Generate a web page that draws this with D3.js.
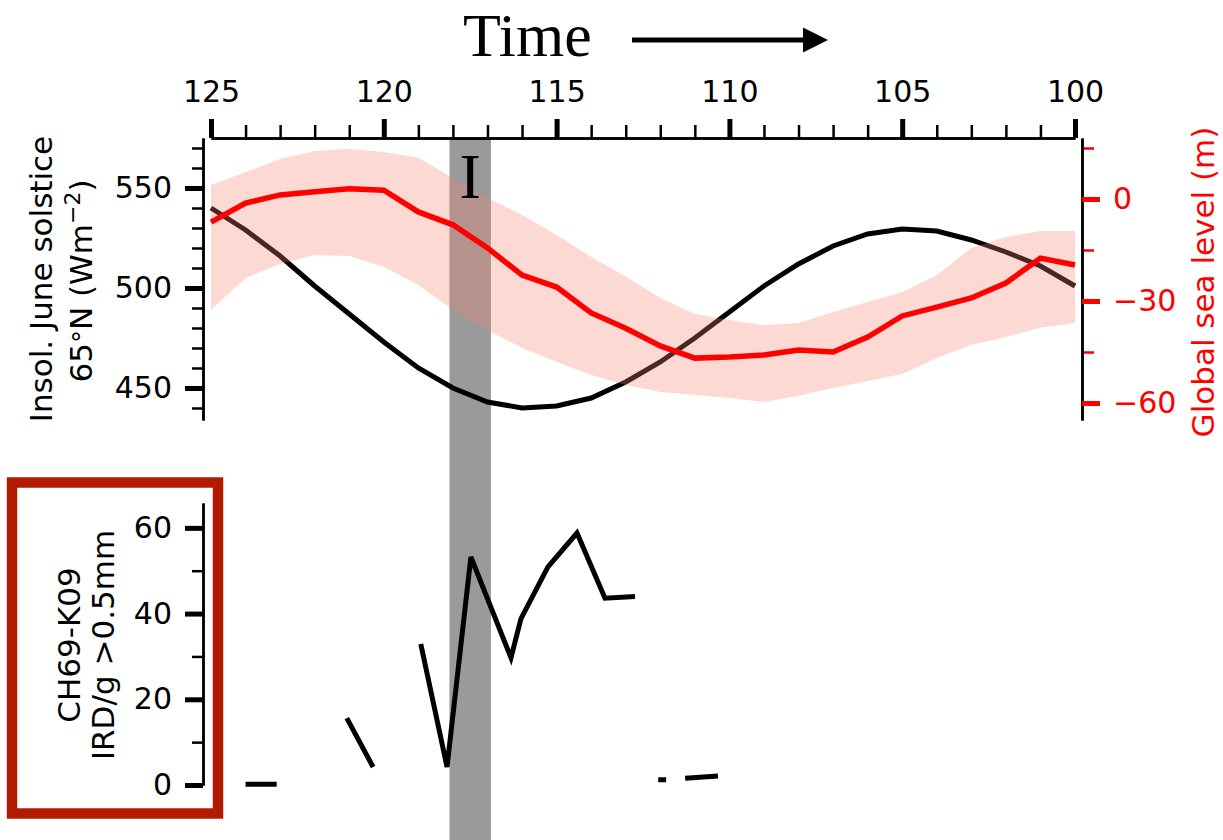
<!DOCTYPE html>
<html>
<head>
<meta charset="utf-8">
<script src="https://cdn.jsdelivr.net/npm/d3@7"></script>
<style>
  html, body { margin: 0; padding: 0; background: #fff; }
  svg { display: block; }
  text { font-family: "DejaVu Sans", sans-serif; }
</style>
</head>
<body>
<svg id="chart" width="1223" height="840"></svg>
<script>
// Age axis (ka), shared by both panels
const ages = [125, 124, 123, 122, 121, 120, 119, 118, 117, 116, 115, 114, 113,
              112, 111, 110, 109, 108, 107, 106, 105, 104, 103, 102, 101, 100];
const ageTicks = [125, 120, 115, 110, 105, 100];

// June solstice insolation at 65°N (W m^-2)
const insolation = [540, 529, 516, 501, 487, 473, 460, 450, 443, 440, 441, 445, 453,
                    463, 475, 488, 501, 512, 521, 527, 529.5, 528.5, 524, 518, 511, 501];

// Global sea level (m): central estimate with upper and lower bounds
const seaLevel = [-6.8, -1.2, 1.2, 2.1, 3.0, 2.6, -3.8, -7.6, -14.4, -22.4, -25.9, -33.5, -38,
                  -43.2, -46.8, -46.5, -45.9, -44.4, -45, -40.6, -34.4, -31.8, -29.1, -24.7, -17.4, -19.4];
const seaLevelHigh = [4.1, 7.9, 11.8, 14.1, 14.7, 13.8, 12.1, 6.2, 0.3, -4.7, -10.6, -17, -22.9,
                      -29.1, -33.8, -35.6, -37.1, -36.5, -33.2, -30.3, -27.4, -22.4, -14.4, -11.2, -9.4, -9.4];
const seaLevelLow = [-32.6, -23.2, -19.1, -16.5, -16.8, -20, -25.3, -32.6, -38.5, -43.8, -47.9, -51.8, -54.7,
                     -56.8, -57.6, -58.5, -59.7, -57.9, -55.6, -53.5, -51.5, -46.8, -42.9, -40.6, -37.9, -36.5];

// CH69-K09 ice-rafted debris counts; null marks a gap in the record
const irdAges = [124.0, 123.1, null, 121.07, 120.31, null,
                 118.93, 118.17, 117.48, 116.32, 116.03, 115.25, 114.41, 113.6, 112.73, null,
                 112.06, 111.83, null, 111.28, 110.33];
const irdCounts = [0.2, 0.2, null, 15.6, 4.2, null,
                   32.9, 4.2, 53.2, 29.7, 38.8, 50.9, 58.8, 43.6, 44, null,
                   1.2, 1.2, null, 1.6, 2.1];

// Highlighted interval "I" (ka)
const eventSpan = [118.1, 116.9];
const eventLabel = "I";

const insolTicks = [450, 500, 550];
const insolMinor = [440, 460, 470, 480, 490, 510, 520, 530, 540, 560, 570];
const seaTicks = [0, -30, -60];
const seaMinor = [15, -15, -45];
const irdTicks = [0, 20, 40, 60];
const irdMinor = [10, 30, 50];

const svg = d3.select("#chart");

// Scales
const x = d3.scaleLinear().domain([125, 100]).range([211, 1075]);
const yInsol = d3.scaleLinear().domain([434, 575]).range([420, 138]);
const ySea = d3.scaleLinear().domain([-65, 17.94]).range([420, 138]);
const yIrd = d3.scaleLinear().domain([0, 65.8]).range([785, 503]);

const leftSpineX = 203, rightSpineX = 1082, topAxisY = 138;

// Highlight band across both panels
svg.append("rect")
  .attr("x", x(eventSpan[0]))
  .attr("width", x(eventSpan[1]) - x(eventSpan[0]))
  .attr("y", topAxisY + 1)
  .attr("height", 840 - topAxisY - 1)
  .attr("fill", "#9a9a9a");

// Insolation curve
const insolData = ages.map((a, i) => ({ a, v: insolation[i] }));
svg.append("path")
  .datum(insolData)
  .attr("fill", "none")
  .attr("stroke", "#000")
  .attr("stroke-width", 5)
  .attr("d", d3.line().x(d => x(d.a)).y(d => yInsol(d.v)));

// Sea level uncertainty envelope
const seaData = ages.map((a, i) => ({ a, v: seaLevel[i], hi: seaLevelHigh[i], lo: seaLevelLow[i] }));
svg.append("path")
  .datum(seaData)
  .attr("fill", "salmon")
  .attr("fill-opacity", 0.3)
  .attr("d", d3.area().x(d => x(d.a)).y0(d => ySea(d.lo)).y1(d => ySea(d.hi)));

// Sea level central estimate
svg.append("path")
  .datum(seaData)
  .attr("fill", "none")
  .attr("stroke", "#ff0000")
  .attr("stroke-width", 5.5)
  .attr("d", d3.line().x(d => x(d.a)).y(d => ySea(d.v)));

// IRD record
const irdData = irdAges.map((a, i) => ({ a, v: irdCounts[i] }));
svg.append("path")
  .datum(irdData)
  .attr("fill", "none")
  .attr("stroke", "#000")
  .attr("stroke-width", 5)
  .attr("d", d3.line().defined(d => d.a !== null && d.v !== null)
    .x(d => x(d.a)).y(d => yIrd(d.v)));

// Axis helpers
function styleAxis(g, color, width) {
  g.select(".domain").attr("stroke", "#000").attr("stroke-width", 2.5);
  g.selectAll(".tick line").attr("stroke", color).attr("stroke-width", width);
  g.selectAll(".tick text")
    .attr("fill", color)
    .style("font-family", "'DejaVu Sans', sans-serif")
    .style("font-size", "30px");
}

// Top age axis
const gTopMinor = svg.append("g").attr("transform", `translate(0,${topAxisY})`)
  .call(d3.axisTop(x).tickValues(d3.range(124, 100, -1).filter(v => v % 5 !== 0))
    .tickSize(13).tickSizeOuter(0).tickFormat(""));
styleAxis(gTopMinor, "#000", 2.5);
const gTop = svg.append("g").attr("transform", `translate(0,${topAxisY})`)
  .call(d3.axisTop(x).tickValues(ageTicks).tickSize(19).tickPadding(17)
    .tickSizeOuter(0).tickFormat(d3.format("d")));
styleAxis(gTop, "#000", 5);

// Left insolation axis
const gInsolMinor = svg.append("g").attr("transform", `translate(${leftSpineX},0)`)
  .call(d3.axisLeft(yInsol).tickValues(insolMinor).tickSize(11).tickSizeOuter(0).tickFormat(""));
styleAxis(gInsolMinor, "#000", 2.5);
const gInsol = svg.append("g").attr("transform", `translate(${leftSpineX},0)`)
  .call(d3.axisLeft(yInsol).tickValues(insolTicks).tickSize(18).tickPadding(13).tickSizeOuter(0));
styleAxis(gInsol, "#000", 5);

// Right sea level axis
const gSeaMinor = svg.append("g").attr("transform", `translate(${rightSpineX},0)`)
  .call(d3.axisRight(ySea).tickValues(seaMinor).tickSize(12).tickSizeOuter(0).tickFormat(""));
styleAxis(gSeaMinor, "#ff0000", 2.5);
const gSea = svg.append("g").attr("transform", `translate(${rightSpineX},0)`)
  .call(d3.axisRight(ySea).tickValues(seaTicks).tickSize(18).tickPadding(13).tickSizeOuter(0)
    .tickFormat(d3.format("d")));
styleAxis(gSea, "#ff0000", 5);

// IRD axis
const gIrdMinor = svg.append("g").attr("transform", `translate(${leftSpineX},0)`)
  .call(d3.axisLeft(yIrd).tickValues(irdMinor).tickSize(11).tickSizeOuter(0).tickFormat(""));
styleAxis(gIrdMinor, "#000", 2.5);
const gIrd = svg.append("g").attr("transform", `translate(${leftSpineX},0)`)
  .call(d3.axisLeft(yIrd).tickValues(irdTicks).tickSize(18).tickPadding(13).tickSizeOuter(0));
styleAxis(gIrd, "#000", 5);

// Axis titles
svg.append("text")
  .attr("transform", "translate(52,279) rotate(-90)")
  .attr("text-anchor", "middle")
  .style("font-size", "31px")
  .text("Insol. June solstice");
const insolTitle2 = svg.append("text")
  .attr("transform", "translate(92,281) rotate(-90)")
  .attr("text-anchor", "middle")
  .style("font-size", "31px");
insolTitle2.append("tspan").text("65");
insolTitle2.append("tspan").style("font-size", "26px").text("°");
insolTitle2.append("tspan").text("N (Wm");
insolTitle2.append("tspan").style("font-size", "22px").attr("dy", -12).text("−2");
insolTitle2.append("tspan").attr("dy", 12).text(")");

svg.append("text")
  .attr("transform", "translate(1214,282) rotate(-90)")
  .attr("text-anchor", "middle")
  .attr("fill", "#ff0000")
  .style("font-size", "31px")
  .text("Global sea level (m)");

svg.append("text")
  .attr("transform", "translate(80,645) rotate(-90)")
  .attr("text-anchor", "middle")
  .style("font-size", "31px")
  .text("CH69-K09");
svg.append("text")
  .attr("transform", "translate(114,645) rotate(-90)")
  .attr("text-anchor", "middle")
  .style("font-size", "31px")
  .text("IRD/g >0.5mm");

// Frame around the IRD axis title
svg.append("rect")
  .attr("x", 12).attr("y", 482.5)
  .attr("width", 206).attr("height", 331)
  .attr("fill", "none")
  .attr("stroke", "#b31b00")
  .attr("stroke-width", 10.5);

// Interval label
svg.append("text")
  .attr("x", x((eventSpan[0] + eventSpan[1]) / 2))
  .attr("y", 198)
  .attr("text-anchor", "middle")
  .style("font-family", "'Liberation Serif', 'Times New Roman', serif")
  .style("font-size", "64px")
  .text(eventLabel);

// Title with time arrow
svg.append("text")
  .attr("x", 463).attr("y", 56)
  .style("font-family", "'Liberation Serif', 'Times New Roman', serif")
  .style("font-size", "62px")
  .text("Time");
svg.append("line")
  .attr("x1", 632).attr("x2", 806)
  .attr("y1", 40).attr("y2", 40)
  .attr("stroke", "#000").attr("stroke-width", 5);
svg.append("path")
  .attr("d", "M803,27.5 L828,40 L803,52.5 Z")
  .attr("fill", "#000");
</script>
</body>
</html>
